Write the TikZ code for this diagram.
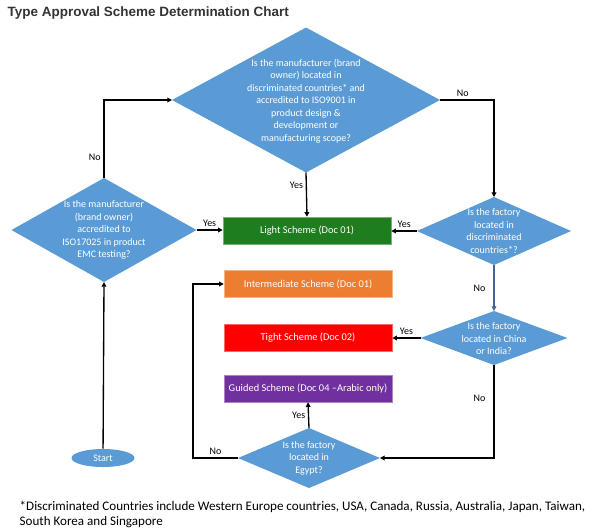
\documentclass[tikz,border=0pt]{standalone}
\usepackage{fontspec}
\setmainfont{Carlito}
\newfontfamily\titlefont{Liberation Sans}
\usetikzlibrary{shapes.geometric,arrows.meta}

\definecolor{qblue}{RGB}{91,155,213}
\definecolor{lightgreen}{RGB}{30,125,30}
\definecolor{midorange}{RGB}{237,125,49}
\definecolor{tightred}{RGB}{255,0,0}
\definecolor{guidepurple}{RGB}{112,48,160}
\definecolor{linkblue}{RGB}{70,100,140}

\tikzset{
  decision/.style={diamond,fill=qblue,inner sep=0pt,outer sep=0pt},
  qtext/.style={text=white,align=center,font=\fontsize{7.5}{9.4}\selectfont},
  scheme/.style={rectangle,draw=#1!60!white,line width=0.4pt,fill=#1,text=white,
    minimum width=126pt,minimum height=20.25pt,inner sep=0pt,
    font=\fontsize{7.8}{9}\selectfont},
  arr/.style={line width=1pt,-{Triangle[length=3.5pt,width=3.5pt]}},
  answer/.style={font=\fontsize{7.5}{9}\selectfont,inner sep=2pt}
}

\begin{document}
\begin{tikzpicture}[x=0.75pt,y=-0.75pt]
  \useasboundingbox (0,0) rectangle (598,529);
  \node[anchor=west,font=\fontsize{10.1}{12}\titlefont\bfseries,text=black!80] (title) at (3,13)
    {Type Approval Scheme Determination Chart};

  % questions
  \node[decision,minimum width=201pt,minimum height=108.75pt] (q1) at (306,100) {};
  \node[qtext] (q1text) at (306,101) {Is the manufacturer (brand\\ owner) located in\\
    discriminated countries* and\\ accredited to ISO9001 in\\ product design \&\\
    development or\\ manufacturing scope?};
  \node[decision,minimum width=138.75pt,minimum height=78pt] (q0) at (104,230) {};
  \node[qtext] (q0text) at (104,230) {Is the manufacturer\\ (brand owner)\\ accredited to\\
    ISO17025 in product\\ EMC testing?};
  \node[decision,minimum width=115.5pt,minimum height=51pt] (q2) at (494,231) {};
  \node[qtext] (q2text) at (494,231) {Is the factory\\ located in\\ discriminated\\ countries*?};
  \node[decision,minimum width=110.25pt,minimum height=40.5pt] (q3) at (494,338) {};
  \node[qtext] (q3text) at (494,339) {Is the factory\\ located in China\\ or India?};
  \node[decision,minimum width=106.5pt,minimum height=45pt] (q4) at (309,458) {};
  \node[qtext] (q4text) at (309,458) {Is the factory\\ located in\\ Egypt?};

  % schemes
  \node[scheme=lightgreen] (light) at (307,230.5) {Light Scheme (Doc 01)};
  \node[scheme=midorange] (inter) at (308,284) {Intermediate Scheme (Doc 01)};
  \node[scheme=tightred] (tight) at (308,338) {Tight Scheme (Doc 02)};
  \node[scheme=guidepurple] (guided) at (308,388.5) {Guided Scheme (Doc 04 --Arabic only)};

  \node[ellipse,fill=qblue,text=white,minimum width=47.25pt,minimum height=13.5pt,inner sep=0pt,
    font=\fontsize{7.5}{9}\selectfont] (start) at (103,458) {Start};
  \coordinate (bend) at (193,457);

  % connectors
  \draw[arr] (start) -- (q0.south);
  \draw[arr] (q0.north) |- node[answer,pos=0.135,left] {No} (q1.west);
  \draw[arr] (q0.east) -- node[answer,above] {Yes} (q0.east -| light.west);
  \draw[arr] (q1.south) -- node[answer,pos=0.3,left] {Yes} (light.north);
  \draw[arr] (q1.east) -| node[answer,pos=0.21,above] {No} (q2.north);
  \draw[arr] (q2.west) -- node[answer,above] {Yes} (q2.west -| light.east);
  \draw[arr,draw=linkblue] (q2.south) -- node[answer,left,xshift=-4pt] {No} (q3.north);
  \draw[arr] (q3.west) -- node[answer,above] {Yes} (q3.west -| tight.east);
  \draw[arr] (q3.south) |- node[answer,pos=0.18,left,xshift=-4pt] {No} (q4.east);
  \draw[arr] (q4.north) -- node[answer,left] {Yes} (guided.south);
  \draw[arr] (q4.west) -- node[answer,above] {No} (q4.west -| bend) |- (inter.west);

  \node[anchor=north west,align=left,font=\fontsize{9.8}{11.4}\selectfont] (note) at (15,496)
    {*Discriminated Countries include Western Europe countries, USA, Canada, Russia, Australia, Japan, Taiwan,\\
     South Korea and Singapore};
\end{tikzpicture}
\end{document}
